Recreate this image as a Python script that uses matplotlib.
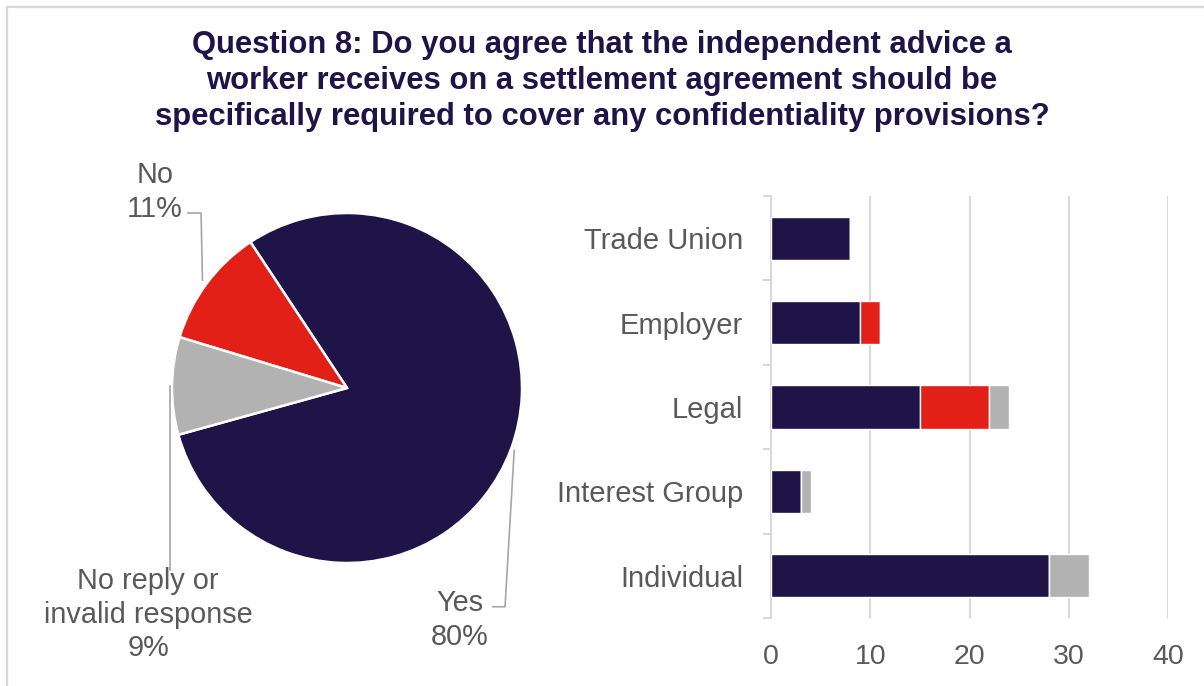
import numpy as np
import matplotlib.pyplot as plt
from matplotlib.lines import Line2D

plt.rcParams['font.family'] = ['Liberation Sans', 'DejaVu Sans']

# overall response split (per cent)
pie_labels = ['Yes', 'No', 'No reply or\ninvalid response']
pie_shares = [80, 11, 9]

# responses by respondent type (counts)
categories = ['Trade Union', 'Employer', 'Legal', 'Interest Group', 'Individual']
yes_counts = [8, 9, 15, 3, 28]
no_counts = [0, 2, 7, 0, 0]
no_reply_counts = [0, 0, 2, 1, 4]
x_ticks = [0, 10, 20, 30, 40]

NAVY = '#1E1448'
RED = '#E32017'
GREY = '#B1B2B1'
TEXT = '#595959'
LINE = '#D9D9D9'

W, H = 1204, 686
fig = plt.figure(figsize=(W / 100, H / 100), dpi=100)

title = ('Question 8: Do you agree that the independent advice a\n'
         'worker receives on a settlement agreement should be\n'
         'specifically required to cover any confidentiality provisions?')
fig.text(0.5, 1 - 81 / H, title, ha='center', va='center', fontsize=22.3,
         fontweight='bold', color=NAVY, linespacing=1.24)

# frame around the chart area
fig.add_artist(Line2D([7 / W, 7 / W], [0, 1 - 7 / H], color=LINE, lw=1.6))
fig.add_artist(Line2D([7 / W, 1], [1 - 7 / H, 1 - 7 / H], color=LINE, lw=1.6))

# --- pie ---
cx, cy, r = 347, 388, 175
ax_pie = fig.add_axes([(cx - r) / W, (H - cy - r) / H, 2 * r / W, 2 * r / H])
wedges, _ = ax_pie.pie(pie_shares, colors=[NAVY, RED, GREY], startangle=195.5,
                       counterclock=True,
                       wedgeprops=dict(edgecolor='white', linewidth=1.8))
ax_pie.set_xlim(-1, 1)
ax_pie.set_ylim(-1, 1)
ax_pie.axis('off')


def mid_point(w, rad=1.02):
    a = np.deg2rad((w.theta1 + w.theta2) / 2)
    return rad * np.cos(a), rad * np.sin(a)


lead_kw = dict(color='#A6A6A6', lw=1.2, clip_on=False)
lab_kw = dict(ha='center', va='center', fontsize=20.8, color=TEXT,
              linespacing=1.24, clip_on=False)

# Yes
px, py = mid_point(wedges[0])
ax_pie.plot([px, 0.903, 0.834], [py, -1.25, -1.25], **lead_kw)
ax_pie.text(0.646, -1.325, f'{pie_labels[0]}\n{pie_shares[0]}%', **lab_kw)

# No
px, py = mid_point(wedges[1], 1.03)
ax_pie.plot([px, -0.834, -0.909], [py, 1.0, 1.0], **lead_kw)
ax_pie.text(-1.097, 1.12, f'{pie_labels[1]}\n{pie_shares[1]}%', **lab_kw)

# No reply
px, py = mid_point(wedges[2], 1.01)
ax_pie.plot([px, px], [py, -1.04], **lead_kw)
ax_pie.text(-1.137, -1.295, f'{pie_labels[2]}\n{pie_shares[2]}%', **lab_kw)

# --- stacked bars ---
ax = fig.add_axes([771 / W, (H - 618) / H, 397 / W, 422 / H])
y = np.arange(len(categories))
yes_arr = np.array(yes_counts)
no_arr = np.array(no_counts)
nr_arr = np.array(no_reply_counts)
bar_kw = dict(height=0.51, edgecolor='white', linewidth=1.0, zorder=3)
ax.barh(y, yes_arr, color=NAVY, **bar_kw)
ax.barh(y, no_arr, left=yes_arr, color=RED, **bar_kw)
ax.barh(y, nr_arr, left=yes_arr + no_arr, color=GREY, **bar_kw)

ax.set_xlim(0, 40)
ax.set_ylim(len(categories) - 0.5, -0.5)
ax.set_xticks(x_ticks)
ax.set_yticks(y)
ax.set_yticklabels(categories)
ax.set_yticks(np.arange(len(categories) + 1) - 0.5, minor=True)
ax.grid(axis='x', color=LINE, lw=1.5, zorder=0)
for s in ['top', 'right', 'bottom']:
    ax.spines[s].set_visible(False)
ax.spines['left'].set_color(LINE)
ax.spines['left'].set_linewidth(1.5)
ax.tick_params(axis='y', which='major', length=0, pad=20, labelsize=21,
               labelcolor=TEXT)
ax.tick_params(axis='y', which='minor', length=6, width=1.5, color=LINE)
ax.tick_params(axis='x', length=0, pad=19, labelsize=20.5, labelcolor=TEXT)

fig.savefig('out.png', dpi=100, facecolor='white')
